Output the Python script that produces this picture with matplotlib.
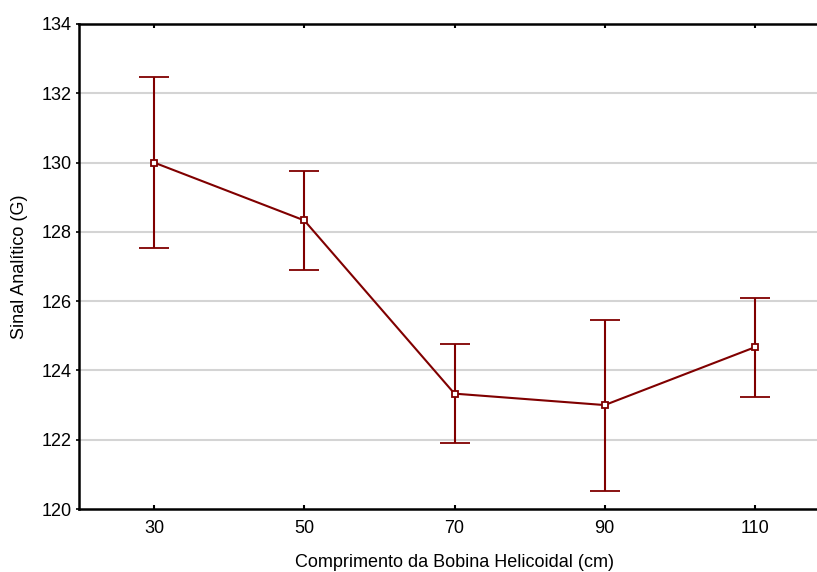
import matplotlib
matplotlib.use("Agg")
import matplotlib.pyplot as plt
import numpy as np

categories = ["30", "50", "70", "90", "110"]
means = [130.0, 128.33, 123.33, 123.0, 124.67]
err_upper = [132.48, 129.76, 124.76, 125.47, 126.09]
err_lower = [127.52, 126.90, 121.90, 120.51, 123.23]

plt.rcParams['font.family'] = ['Liberation Sans', 'DejaVu Sans']

fig = plt.figure(figsize=(8.17, 5.72), dpi=100)
# axes extend slightly beyond right edge, as in reference
left, bottom = 79 / 817, (572 - 509) / 572
width = (830 - 79) / 817
height = (509 - 24) / 572
ax = fig.add_axes([left, bottom, width, height])

color = '#800000'
x = np.arange(len(categories))
m = np.array(means)
yerr = [m - np.array(err_lower), np.array(err_upper) - m]

ax.errorbar(x, m, yerr=yerr, color=color, lw=1.5, elinewidth=1.5,
            capsize=11, capthick=1.5, marker='s', markersize=5,
            markerfacecolor='white', markeredgecolor=color, markeredgewidth=1.3,
            zorder=3)

ax.set_xlim(-0.5, 4.5)
ax.set_ylim(120, 134)
ax.set_xticks(x)
ax.set_xticklabels(categories)
ax.set_yticks(np.arange(120, 135, 2))

for yv in range(122, 134, 2):
    ax.axhline(yv, color='#d4d4d4', lw=1.5, zorder=1)

for side in ['left', 'top', 'bottom']:
    ax.spines[side].set_linewidth(1.8)
ax.spines['right'].set_visible(False)

fs = 13
ax.tick_params(axis='x', direction='in', length=3, width=1.5, top=True,
               labelsize=fs, pad=8)
ax.tick_params(axis='y', direction='out', length=2, width=1.2,
               labelsize=fs, pad=3)

ax.set_xlabel("Comprimento da Bobina Helicoidal (cm)", fontsize=fs, labelpad=12)
ax.set_ylabel("Sinal Analítico (G)", fontsize=fs, labelpad=10)

fig.savefig("out.png", dpi=100)
